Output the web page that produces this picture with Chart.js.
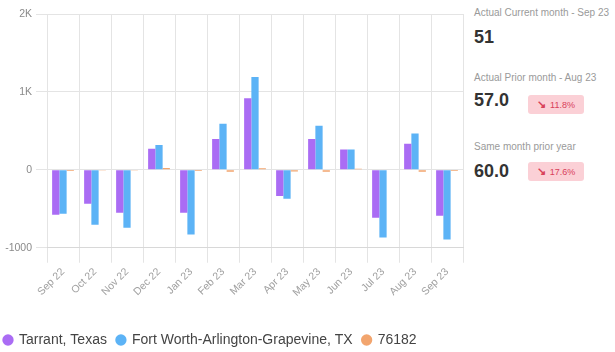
<!DOCTYPE html>
<html lang="en">
<head>
  <meta charset="UTF-8">
  <title>Monthly change</title>
  <script src="https://cdn.jsdelivr.net/npm/chart.js"></script>
  <style>
    body {
      margin: 0;
      font-family: "Liberation Sans", Arial, sans-serif;
      background: #fff;
      width: 615px;
      height: 352px;
      position: relative;
      overflow: hidden;
    }
    #wrap {
      position: absolute;
      left: -6px;
      top: 0;
      width: 474px;
      height: 357px;
    }
    .panel {
      position: absolute;
      left: 474px;
      top: 0;
      width: 141px;
    }
    .lbl {
      font-size: 10px;
      color: #9a9a9a;
      white-space: nowrap;
      position: absolute;
      left: 0;
    }
    .val {
      font-size: 18px;
      font-weight: bold;
      color: #333;
      position: absolute;
      left: 0;
    }
    .badge {
      position: absolute;
      left: 54px;
      width: 56px;
      height: 19px;
      background: #fbd0d6;
      border-radius: 3px;
      color: #d8405a;
      font-size: 9px;
      line-height: 19px;
      text-align: center;
    }
    .badge b {
      font-weight: bold;
      font-size: 11px;
      margin-right: 4px;
    }
  </style>
</head>
<body>

<div id="wrap"><canvas id="grafico"></canvas></div>

<div class="panel">
  <div class="lbl" style="top:7px">Actual Current month - Sep 23</div>
  <div class="val" style="top:27px">51</div>
  <div class="lbl" style="top:72px">Actual Prior month - Aug 23</div>
  <div class="val" style="top:90px">57.0</div>
  <div class="badge" style="top:95px"><b>&#8600;</b>11.8%</div>
  <div class="lbl" style="top:141px">Same month prior year</div>
  <div class="val" style="top:161px">60.0</div>
  <div class="badge" style="top:162px"><b>&#8600;</b>17.6%</div>
</div>

<script>
const meses = ['Sep 22', 'Oct 22', 'Nov 22', 'Dec 22', 'Jan 23', 'Feb 23', 'Mar 23',
               'Apr 23', 'May 23', 'Jun 23', 'Jul 23', 'Aug 23', 'Sep 23'];
const tarrant = [-575, -435, -550, 270, -550, 395, 920, -335, 395, 260, -615, 335, -590];
const fortWorth = [-565, -705, -745, 320, -830, 590, 1190, -370, 565, 260, -870, 465, -895];
const zip76182 = [-15, -10, -10, 25, -15, -25, 20, -20, -25, 15, -5, -25, -15];

const gris = '#e4e4e4';

new Chart(document.getElementById('grafico'), {
  type: 'bar',
  data: {
    labels: meses,
    datasets: [
      { label: 'Tarrant, Texas', data: tarrant, backgroundColor: '#aa6cf4' },
      { label: 'Fort Worth-Arlington-Grapevine, TX', data: fortWorth, backgroundColor: '#5cb3f6' },
      { label: '76182', data: zip76182, backgroundColor: '#f2a56e' }
    ]
  },
  options: {
    responsive: true,
    maintainAspectRatio: false,
    animation: false,
    layout: { padding: { left: 0, top: 14, right: 5, bottom: 0 } },
    datasets: { bar: { categoryPercentage: 0.68, barPercentage: 1 } },
    scales: {
      x: {
        grid: { color: gris, tickLength: 15, offset: true },
        border: { color: '#d8d8d8' },
        ticks: {
          color: '#a0a0a0',
          font: { size: 10.5, family: '"Liberation Sans", Arial' },
          minRotation: 45,
          maxRotation: 45,
          padding: 3
        },
        afterFit: s => { s.height += 21; }
      },
      y: {
        min: -1000,
        max: 2000,
        grid: { color: gris, tickLength: 11 },
        border: { display: false },
        ticks: {
          stepSize: 1000,
          color: '#8a8a8a',
          font: { size: 10.5, family: '"Liberation Sans", Arial' },
          padding: 4,
          callback: v => v >= 1000 ? (v / 1000) + 'K' : v
        },
        afterFit: s => { s.width = 53; }
      }
    },
    plugins: {
      tooltip: { enabled: false },
      legend: {
        position: 'bottom',
        align: 'start',
        labels: {
          usePointStyle: true,
          pointStyle: 'circle',
          boxWidth: 8,
          boxHeight: 8,
          padding: 10,
          color: '#444',
          font: { size: 14, family: '"Liberation Sans", Arial' }
        }
      }
    }
  }
});
</script>

</body>
</html>
